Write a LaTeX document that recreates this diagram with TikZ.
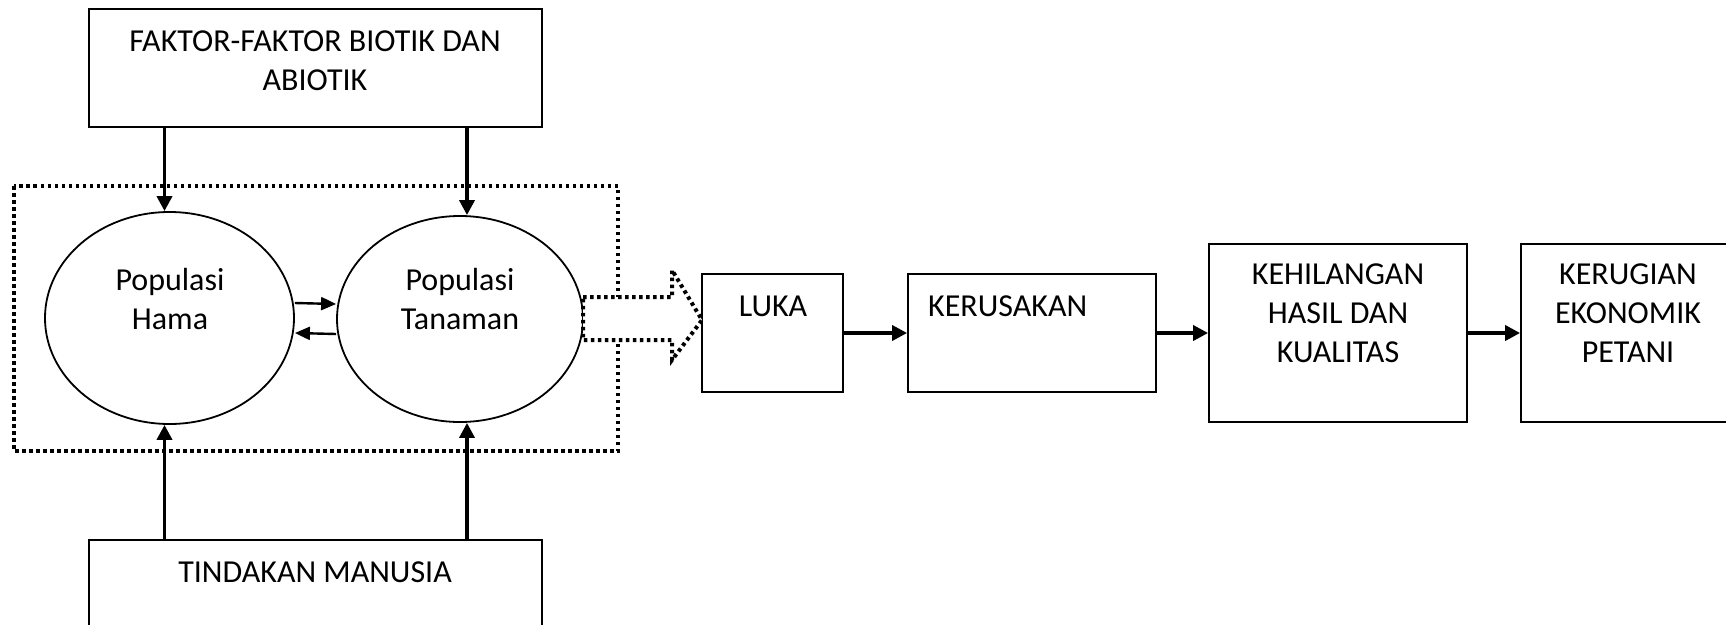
\documentclass[tikz,border=0pt]{standalone}
\usepackage{fontspec}
\setmainfont{Carlito}
\usetikzlibrary{shapes.geometric,arrows.meta}
\begin{document}
\begin{tikzpicture}[x=1pt,y=-1pt,
  box/.style={draw,line width=1.8pt,inner sep=0pt,rectangle},
  oval/.style={draw,line width=1.8pt,ellipse,inner sep=0pt},
  txt/.style={inner sep=0pt,align=center,font=\fontsize{32}{39}\selectfont},
  arr/.style={line width=3.6pt,-{Triangle[length=15pt,width=15pt]}},
  sarr/.style={line width=2.4pt,-{Triangle[length=15pt,width=13pt]}},
  dots/.style={line width=4pt,dash pattern=on 3.5pt off 3.5pt}]
\useasboundingbox (0,0) rectangle (1726,624);
\clip (0,0) rectangle (1726,624);
% boxes
\node[box,minimum width=453pt,minimum height=118pt] (top) at (315.5,68) {};
\node[box,minimum width=453pt,minimum height=120pt] (bot) at (315.5,600) {};
\node[oval,minimum width=249pt,minimum height=212pt] (hama) at (169.5,318) {};
\node[oval,minimum width=246pt,minimum height=206pt] (tan) at (460,319) {};
\node[box,minimum width=141pt,minimum height=118pt] (luka) at (772.5,333) {};
\node[box,minimum width=248pt,minimum height=118pt] (rusak) at (1032,333) {};
\node[box,minimum width=258pt,minimum height=178pt] (hilang) at (1338,333) {};
\node[box,minimum width=260pt,minimum height=178pt] (rugi) at (1651,333) {};
% texts
\node[txt] (ttop) at (315,61) {FAKTOR-FAKTOR BIOTIK DAN\\ABIOTIK};
\node[txt] (tbot) at (315,572) {TINDAKAN MANUSIA};
\node[txt] (thama) at (170,299) {Populasi\\Hama};
\node[txt] (ttan) at (460,299) {Populasi\\Tanaman};
\node[txt] (tluka) at (773,306) {LUKA};
\node[txt,anchor=west] (trusak) at (928,306) {KERUSAKAN};
\node[txt] (thilang) at (1338,313) {KEHILANGAN\\HASIL DAN\\KUALITAS};
\node[txt] (trugi) at (1628,313) {KERUGIAN\\EKONOMIK\\PETANI};
% dotted frame
\draw[dots] (14,186) rectangle (618,451);
% fat dotted arrow
\draw[dots,fill=white] (583,297) -- (672,297) -- (672,270) -- (702,320) -- (672,360) -- (672,340) -- (583,340) -- cycle;
% vertical arrows
\draw[arr] ([xshift=-5pt]top.south -| hama.north) -- ([xshift=-5pt]hama.north);
\draw[arr] ([xshift=7pt]top.south -| tan.north) -- ([xshift=7pt]tan.north);
\draw[arr] ([xshift=-5pt]bot.north -| hama.south) -- ([xshift=-5pt]hama.south);
\draw[arr] ([xshift=7pt]bot.north -| tan.south) -- ([xshift=7pt]tan.south);
% between ellipses
\draw[sarr] ([yshift=15pt]hama.east) -- ([yshift=15pt]tan.west);
\draw[sarr] ([yshift=-15pt]tan.west) -- ([yshift=-15pt]hama.east);
% chain
\draw[arr] (luka.east) -- (rusak.west);
\draw[arr] (rusak.east) -- (hilang.west);
\draw[arr] (hilang.east) -- (rugi.west);
\end{tikzpicture}
\end{document}
